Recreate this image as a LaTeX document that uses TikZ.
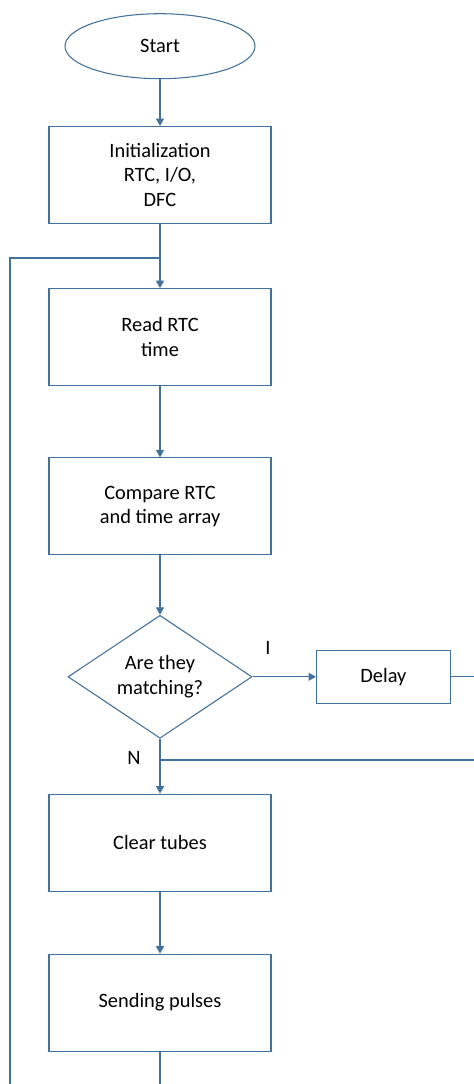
\documentclass[tikz,border=0pt]{standalone}
\usepackage{fontspec}
\setmainfont{Carlito}
\usetikzlibrary{positioning,arrows.meta,shapes.geometric}
\definecolor{flowblue}{RGB}{65,113,156}
\tikzset{
  procbox/.style={draw=flowblue,line width=0.8pt,minimum width=166.5pt,minimum height=72.75pt,inner sep=0pt,align=center,font=\fontsize{15.3}{18.4}\selectfont},
  termbox/.style={ellipse,draw=flowblue,line width=0.8pt,minimum width=142.5pt,minimum height=48.75pt,inner sep=0pt,font=\fontsize{15.3}{18.4}\selectfont},
  decbox/.style={diamond,aspect=1.5,draw=flowblue,line width=0.8pt,minimum width=138pt,minimum height=92.25pt,inner sep=0pt,align=center,font=\fontsize{15.3}{18.4}\selectfont},
  lbl/.style={inner sep=0pt,font=\fontsize{15.3}{18.4}\selectfont},
  flow/.style={-{Triangle[length=5.5pt,width=6pt]},line width=0.8pt,draw=flowblue},
  plain/.style={line width=0.8pt,draw=flowblue},
}
\begin{document}
\begin{tikzpicture}[x=0.75pt,y=-0.75pt]
  \useasboundingbox (0,0) rectangle (474,1084);
  \node[termbox] (start) at (160,46.2) {Start};
  \node[procbox,below=35pt of start] (init) {Initialization\\RTC, I/O,\\DFC};
  \node[procbox,below=48pt of init] (read) {Read RTC\\time};
  \node[procbox,below=53.5pt of read] (comp) {Compare RTC\\and time array};
  \node[decbox,below=44.5pt of comp] (match) {Are they\\matching?};
  \node[procbox,minimum width=100.5pt,minimum height=39.75pt,right=47.5pt of match] (delay) {Delay};
  \node[procbox,below=41pt of match] (clear) {Clear tubes};
  \node[procbox,below=46.5pt of clear] (send) {Sending pulses};
  \node[lbl] (ylbl) at (268,648) {I};
  \node[lbl] (nlbl) at (134,758) {N};
  \coordinate (loopin) at (160,258);
  \coordinate (loopleft) at (10,258);
  \coordinate (loopbot) at (10,1084);
  \coordinate (sendend) at (160,1084);
  \coordinate (rightedge) at (474,0);
  \coordinate (njoin) at (160,760);
  \coordinate (nend) at (474,760);
  \draw[flow] (start) -- (init);
  \draw[flow] (init) -- (read);
  \draw[flow] (read) -- (comp);
  \draw[flow] (comp) -- (match);
  \draw[flow] (match) -- (delay);
  \draw[flow] (match) -- (clear);
  \draw[flow] (clear) -- (send);
  \draw[plain] (delay.east) -- (delay.east -| rightedge);
  \draw[plain] (njoin) -- (nend);
  \draw[plain] (send.south) -- (sendend);
  \draw[plain] (loopbot) -- (loopleft) -- (loopin);
\end{tikzpicture}
\end{document}
